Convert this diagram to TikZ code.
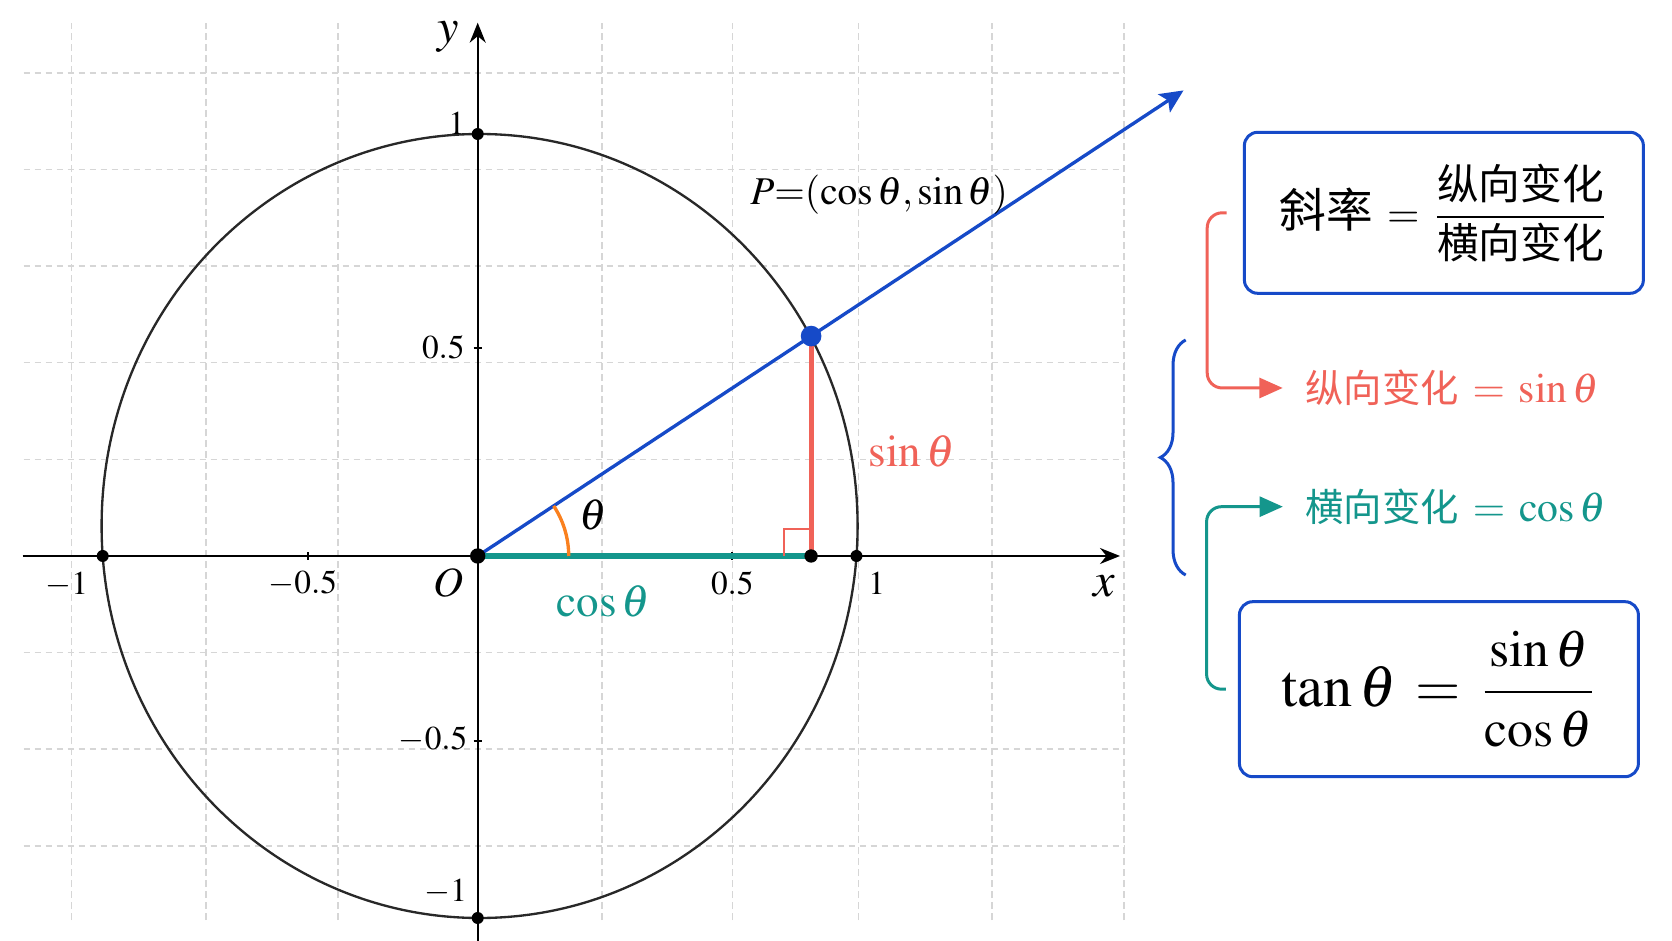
\documentclass[tikz,border=0pt]{standalone}
\usepackage{amsmath}
\usepackage{mathptmx}
\usepackage[no-math]{fontspec}
\setmainfont{Liberation Serif}
\newfontfamily\cjk{Noto Sans CJK SC}
\usetikzlibrary{arrows.meta,calc,decorations.pathreplacing}
\definecolor{rayblue}{RGB}{22,74,200}
\definecolor{sinred}{RGB}{240,98,88}
\definecolor{costeal}{RGB}{20,150,140}
\definecolor{angorange}{RGB}{250,128,30}
\definecolor{gridgray}{RGB}{214,214,214}
\definecolor{circgray}{RGB}{40,40,40}
\newcommand{\fsz}[1]{\fontsize{#1}{#1}\selectfont}

\begin{document}
\begin{tikzpicture}[x=113.4pt, y=117.6pt,
	gridln/.style={gridgray, line width=0.45pt, dash pattern=on 2pt off 1.3pt},
	axisln/.style={line width=0.6pt, -{Stealth[length=6pt,width=4.8pt]}},
	dot/.style={circle, fill=black, inner sep=0pt, minimum size=#1},
	dot/.default=3.6pt,
	lbl/.style={inner sep=0pt},
	frm/.style={draw=rayblue, line width=0.9pt, rounded corners=4pt, fill=white, minimum width=119.7pt},
	link/.style={line width=0.9pt, rounded corners=4.5pt, -{Triangle[length=7pt,width=6pt]}}]
	\useasboundingbox[fill=white] (-1.2638,-0.9821) rectangle (3.1595,1.4184);

	%grid:
	\foreach \gx in {-1.074,-0.719,-0.369,0.329,0.6735,1.007,1.36,1.71}
		\draw[gridln] (\gx,-0.9286) -- (\gx,1.3602);
	\foreach \gy in {-0.7395,-0.493,-0.2465,0.2465,0.493,0.7395,0.986,1.2325}
		\draw[gridln] (-1.2011,\gy) -- (1.71,\gy);

	%unit circle and axes:
	\draw[circgray, line width=0.7pt] (0.005,0.0765) circle [radius=1];
	\draw[axisln] (-1.2037,0) -- (1.6992,0);
	\draw[axisln] (0,-0.9821) -- (0,1.3605);
	\foreach \x in {-0.448,0.6735}
		\draw[line width=0.6pt] (\x,0) ++(0,-1.2pt) -- ++(0,2.4pt);
	\foreach \y in {-0.472,0.531}
		\draw[line width=0.6pt] (0,\y) ++(-1.2pt,0) -- ++(2.4pt,0);

	%angle theta:
	\coordinate (O) at (0,0);
	\coordinate (P) at (0.882,0.561);
	\coordinate (F) at (0.882,0);
	\draw[costeal, line width=1.6pt] (O) -- (F);
	\draw[sinred, line width=1.5pt] (F) -- (P);
	\draw[sinred, line width=0.6pt] ($(F)+(-8pt,0)$) |- ($(F)+(0,8pt)$);
	\draw[rayblue, line width=1pt, -{Stealth[length=7pt,width=6.5pt,inset=1.5pt]}] (O) -- ($(O)!2.117!(P)$);
	\draw[angorange, line width=1pt] ($(O)+(27.3pt,0)$) arc [start angle=0, end angle=33.4, radius=27.3pt];

	\node[dot=4.6pt] (o) at (O) {};
	\node[dot=4pt] (f) at (F) {};
	\node[dot] (xm) at (-0.992,0) {};
	\node[dot] (xp) at (1.002,0) {};
	\node[dot] (yp) at (0,1.0765) {};
	\node[dot] (ym) at (0,-0.9235) {};
	\node[dot=6.2pt, fill=rayblue] (p) at (P) {};

	\node[lbl] (xl) at (1.657,-0.0783) {\fsz{14.5}$x$};
	\node[lbl] (yl) at (-0.0778,1.3232) {\fsz{14.5}$y$};
	\node[lbl] (ol) at (-0.0778,-0.068) {\fsz{12.5}$O$};
	\node[lbl] (t1) at (-1.0873,-0.074) {$-1$};
	\node[lbl] (t2) at (-0.463,-0.0696) {$-0.5$};
	\node[lbl] (t3) at (0.6735,-0.0696) {$0.5$};
	\node[lbl] (t4) at (1.0556,-0.0696) {$1$};
	\node[lbl] (t5) at (-0.0556,1.1038) {$1$};
	\node[lbl] (t6) at (-0.091,0.531) {$0.5$};
	\node[lbl] (t7) at (-0.118,-0.467) {$-0.5$};
	\node[lbl] (t8) at (-0.0844,-0.8564) {$-1$};
	\node[lbl] (th) at (0.3061,0.1046) {\fsz{13}$\theta$};
	\node[lbl, costeal] (cl) at (0.3323,-0.1166) {\fsz{13.5}$\cos\theta$};
	\node[lbl, sinred] (sl) at (1.1481,0.2661) {\fsz{13.5}$\sin\theta$};
	\node[lbl] (pl) at (1.062,0.9209) {\fsz{11.8}$P{=}(\cos\theta,\sin\theta)$};

	%slope boxes:
	\node[frm, minimum height=48.3pt] (slope) at (2.556,0.8755)
		{\fsz{12.5}$\text{\fsz{14}\cjk 斜率}\,=\,\dfrac{\text{\cjk 纵向变化}}{\text{\cjk 横向变化}}$};
	\node[frm, minimum height=52.5pt] (tanbox) at (2.5429,-0.3398)
		{\fsz{17.5}$\tan\theta\,=\,\dfrac{\text{\fsz{15.5}$\sin\theta$}}{\text{\fsz{15.5}$\cos\theta$}}$};
	\node[lbl, sinred] (rise) at (2.5775,0.4286) {\fsz{12.5}$\text{\fsz{11.5}\cjk 纵向变化}\,=\,\sin\theta$};
	\node[lbl, costeal] (run) at (2.5871,0.1258) {\fsz{12.5}$\text{\fsz{11.5}\cjk 横向变化}\,=\,\cos\theta$};
	\draw[link, sinred] ([xshift=-4.9pt]slope.west) -- ++(-5.8pt,0) |- ([xshift=-6.6pt]rise.west);
	\draw[link, costeal] ([xshift=-3.6pt]tanbox.west) -- ++(-5.8pt,0) |- ([xshift=-6.6pt]run.west);
	\coordinate (bb) at (1.873,-0.0485);
	\coordinate (bt) at (1.873,0.551);
	\draw[rayblue, line width=0.9pt, decorate, decoration={brace, amplitude=7.6pt}] (bb) -- (bt);
\end{tikzpicture}
\end{document}
